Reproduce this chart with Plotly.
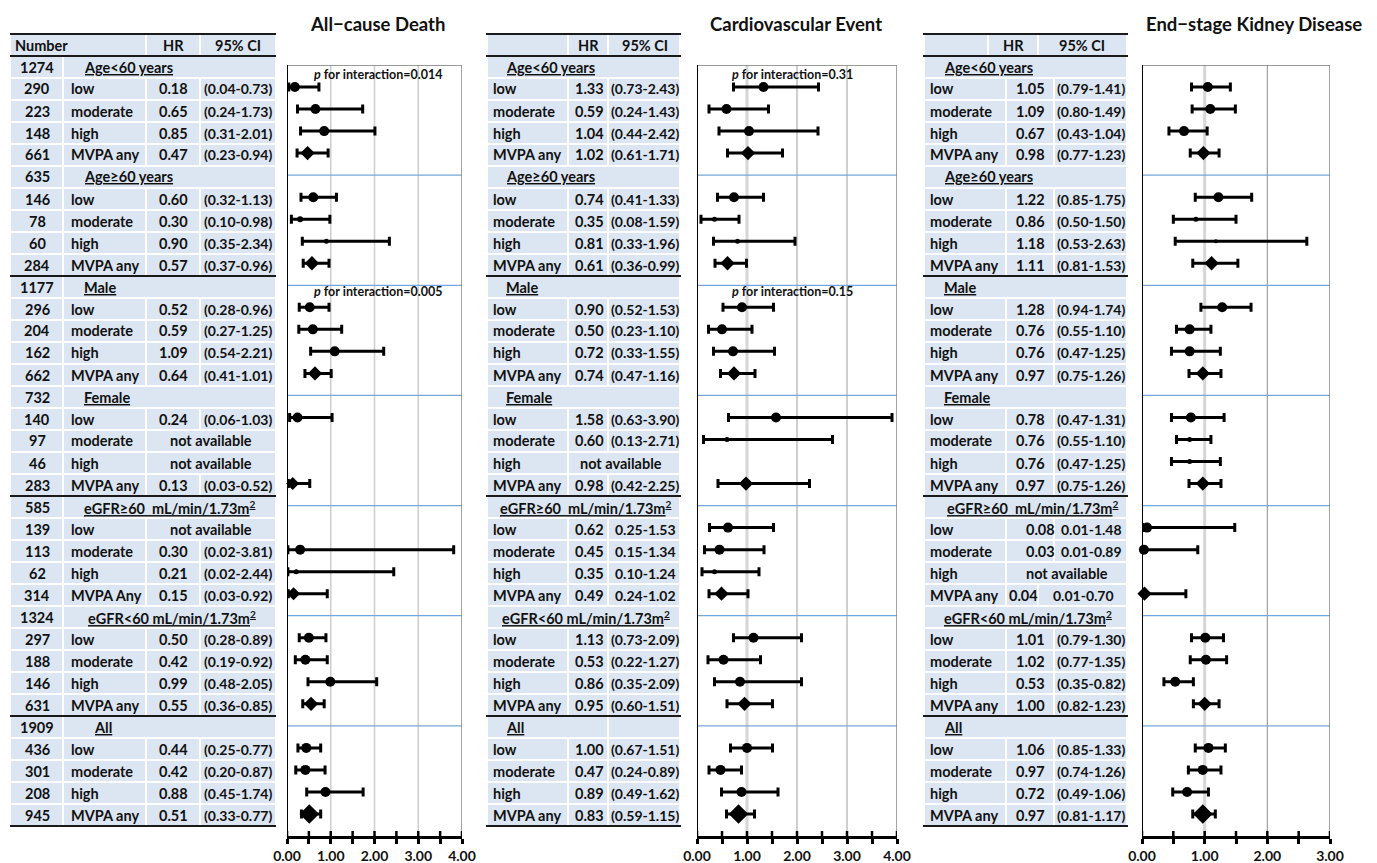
import plotly.graph_objects as go

W, H = 1377, 863
FONT = "Lato"
INK = "#111111"
CELL = "#dce6f2"

# ---------------- data ----------------
GROUPS = ["Age<60 years", "Age≥60 years", "Male", "Female",
          "eGFR≥60\u00a0 mL/min/1.73m<sup>2</sup>", "eGFR<60 mL/min/1.73m<sup>2</sup>", "All"]
GROUP_N = [1274, 635, 1177, 732, 585, 1324, 1909]
LEVELS = ["low", "moderate", "high", "MVPA any"]
LEVEL_N = [[290, 223, 148, 661], [146, 78, 60, 284], [296, 204, 162, 662], [140, 97, 46, 283],
           [139, 113, 62, 314], [297, 188, 146, 631], [436, 301, 208, 945]]

TITLES = ["All\u2212cause Death", "Cardiovascular Event", "End\u2212stage Kidney Disease"]

ACD_HR = [0.18, 0.65, 0.85, 0.47, 0.60, 0.30, 0.90, 0.57, 0.52, 0.59, 1.09, 0.64, 0.24, None, None, 0.13,
          None, 0.30, 0.21, 0.15, 0.50, 0.42, 0.99, 0.55, 0.44, 0.42, 0.88, 0.51]
ACD_LO = [0.04, 0.24, 0.31, 0.23, 0.32, 0.10, 0.35, 0.37, 0.28, 0.27, 0.54, 0.41, 0.06, None, None, 0.03,
          None, 0.02, 0.02, 0.03, 0.28, 0.19, 0.48, 0.36, 0.25, 0.20, 0.45, 0.33]
ACD_HI = [0.73, 1.73, 2.01, 0.94, 1.13, 0.98, 2.34, 0.96, 0.96, 1.25, 2.21, 1.01, 1.03, None, None, 0.52,
          None, 3.81, 2.44, 0.92, 0.89, 0.92, 2.05, 0.85, 0.77, 0.87, 1.74, 0.77]

CVE_HR = [1.33, 0.59, 1.04, 1.02, 0.74, 0.35, 0.81, 0.61, 0.90, 0.50, 0.72, 0.74, 1.58, 0.60, None, 0.98,
          0.62, 0.45, 0.35, 0.49, 1.13, 0.53, 0.86, 0.95, 1.00, 0.47, 0.89, 0.83]
CVE_LO = [0.73, 0.24, 0.44, 0.61, 0.41, 0.08, 0.33, 0.36, 0.52, 0.23, 0.33, 0.47, 0.63, 0.13, None, 0.42,
          0.25, 0.15, 0.10, 0.24, 0.73, 0.22, 0.35, 0.60, 0.67, 0.24, 0.49, 0.59]
CVE_HI = [2.43, 1.43, 2.42, 1.71, 1.33, 1.59, 1.96, 0.99, 1.53, 1.10, 1.55, 1.16, 3.90, 2.71, None, 2.25,
          1.53, 1.34, 1.24, 1.02, 2.09, 1.27, 2.09, 1.51, 1.51, 0.89, 1.62, 1.15]
# the drawn whisker for "Age≥60 / moderate" ends at ~0.84 in the original picture
CVE_DRAWN_HI = {5: 0.84}

ESKD_HR = [1.05, 1.09, 0.67, 0.98, 1.22, 0.86, 1.18, 1.11, 1.28, 0.76, 0.76, 0.97, 0.78, 0.76, 0.76, 0.97,
           0.08, 0.03, None, 0.04, 1.01, 1.02, 0.53, 1.00, 1.06, 0.97, 0.72, 0.97]
ESKD_LO = [0.79, 0.80, 0.43, 0.77, 0.85, 0.50, 0.53, 0.81, 0.94, 0.55, 0.47, 0.75, 0.47, 0.55, 0.47, 0.75,
           0.01, 0.01, None, 0.01, 0.79, 0.77, 0.35, 0.82, 0.85, 0.74, 0.49, 0.81]
ESKD_HI = [1.41, 1.49, 1.04, 1.23, 1.75, 1.50, 2.63, 1.53, 1.74, 1.10, 1.25, 1.26, 1.31, 1.10, 1.25, 1.26,
           1.48, 0.89, None, 0.70, 1.30, 1.35, 0.82, 1.23, 1.33, 1.26, 1.06, 1.17]

P_INTERACTION = [["0.014", "0.005"], ["0.31", "0.15"], []]

# marker sizes (point weights as drawn)
SIZE_ACD = [10, 10, 10, 11, 10, 6, 5, 11, 10, 10, 10, 11, 10, 0, 0, 10, 0, 10, 5, 10, 10, 10, 10, 11, 10, 10, 10, 15]
SIZE_CVE = [10, 10, 10, 11, 10, 5, 5, 11, 10, 10, 10, 11, 10, 5, 0, 11, 10, 10, 5, 11, 10, 10, 10, 11, 10, 10, 10, 15]
SIZE_ESKD = [10, 10, 10, 11, 10, 5, 4, 11, 10, 10, 10, 11, 10, 5, 5, 11, 10, 10, 0, 11, 10, 10, 10, 11, 10, 10, 10, 15]

# ---------------- helpers ----------------
shapes, ann = [], []
LAB, NUM, CIS = 14.5, 14.5, 14


def px(x):
    return x / W


def py(y):
    return 1 - y / H


def yc(i):
    return 45 + 22 * i


def cell(x0, x1, i):
    shapes.append(dict(type="rect", xref="paper", yref="paper", x0=px(x0 + 1), x1=px(x1 - 1),
                       y0=py(yc(i) + 10), y1=py(yc(i) - 10), fillcolor=CELL, line=dict(width=0),
                       layer="below"))


def txt(x, i, s, size, anchor="center"):
    ann.append(dict(xref="paper", yref="paper", x=px(x), y=py(yc(i)), text=f"<b>{s}</b>", showarrow=False,
                    xanchor=anchor, yanchor="middle", font=dict(family=FONT, size=size, color=INK)))


def hline(x0, x1, y, color="#1a1a1a", width=2):
    shapes.append(dict(type="line", xref="paper", yref="paper", x0=px(x0), x1=px(x1), y0=py(y), y1=py(y),
                       line=dict(color=color, width=width)))


# ---------------- tables ----------------
TABLES = [
    dict(x0=10, x1=276, num=(10, 63), num_x=37,
         head_cells=[(10, 146), (146, 200), (200, 276)],
         head_text=[(13, "Number", "left"), (173, "HR", "center"), (238, "95% CI", "center")],
         grp_cells=[(63, 276)], grp_x=[82, 82, 82, 82, 82, 86, 92],
         row_cells=[(63, 146), (146, 200), (200, 276)], na_cells=[(63, 146), (146, 276)],
         lab_x=69, hr_x=173, ci_x=238, na_x=211, paren=[True] * 7,
         hr=ACD_HR, lo=ACD_LO, hi=ACD_HI),
    dict(x0=486, x1=681, num=None,
         head_cells=[(487, 568), (568, 608), (608, 680)],
         head_text=[(588, "HR", "center"), (645, "95% CI", "center")],
         grp_cells=[(487, 680)], grp_x=[504, 504, 504, 504, 498, 500, 504],
         row_cells=[(487, 568), (568, 608), (608, 680)], na_cells=[(487, 568), (568, 680)],
         lab_x=491, hr_x=589, ci_x=645, na_x=621, paren=[True, True, True, True, False, True, True],
         hr=CVE_HR, lo=CVE_LO, hi=CVE_HI),
    dict(x0=923, x1=1128, num=None,
         head_cells=[(924, 988), (988, 1038), (1038, 1127)],
         head_text=[(1013, "HR", "center"), (1082, "95% CI", "center")],
         grp_cells=[(924, 1127)], grp_x=[942, 942, 942, 942, 945, 942, 942],
         row_cells=[(924, 1006), (1006, 1054), (1054, 1127)], na_cells=[(924, 1006), (1006, 1127)],
         lab_x=928, hr_x=1030, ci_x=1091, na_x=1067, paren=[True, True, True, True, False, True, True],
         hr=ESKD_HR, lo=ESKD_LO, hi=ESKD_HI),
]
# small per-cell layout quirks of the original tables
GROUP_SPLIT = {(1, 6): [(487, 608), (608, 680)]}
ROW_QUIRKS = {(2, 4, 0): dict(hr_x=1040), (2, 4, 1): dict(hr_x=1040),
              (2, 4, 3): dict(cells=[(924, 1006), (1006, 1038), (1038, 1127)], hr_x=1023, ci_x=1083)}
LABEL_OVERRIDE = {(0, 4, 3): "MVPA Any"}

for t, T in enumerate(TABLES):
    for (a, b) in T["head_cells"]:
        cell(a, b, 0)
    for (x, s, anc) in T["head_text"]:
        txt(x, 0, s, LAB, anc)
    for yl in [yc(0) - 11, yc(0) + 11, yc(10) + 11, yc(20) + 11, yc(30) + 11, yc(35) + 11]:
        hline(T["x0"], T["x1"], yl)
    for g in range(7):
        i = 1 + 5 * g
        if T["num"]:
            cell(*T["num"], i)
            txt(T["num_x"], i, str(GROUP_N[g]), NUM)
        for (a, b) in GROUP_SPLIT.get((t, g), T["grp_cells"]):
            cell(a, b, i)
        txt(T["grp_x"][g], i, f"<u>{GROUPS[g]}</u>", LAB, "left")
        for l in range(4):
            r = i + 1 + l
            k = 4 * g + l
            q = ROW_QUIRKS.get((t, g, l), {})
            if T["num"]:
                cell(*T["num"], r)
                txt(T["num_x"], r, str(LEVEL_N[g][l]), NUM)
            hrv = T["hr"][k]
            lab = LABEL_OVERRIDE.get((t, g, l), LEVELS[l])
            if hrv is None:
                for (a, b) in T["na_cells"]:
                    cell(a, b, r)
                txt(T["lab_x"], r, lab, LAB, "left")
                txt(T["na_x"], r, "not available", LAB)
                continue
            for (a, b) in q.get("cells", T["row_cells"]):
                cell(a, b, r)
            txt(T["lab_x"], r, lab, LAB, "left")
            txt(q.get("hr_x", T["hr_x"]), r, f"{hrv:.2f}", NUM)
            ci = f"{T['lo'][k]:.2f}-{T['hi'][k]:.2f}"
            if T["paren"][g]:
                ci = f"({ci})"
            txt(q.get("ci_x", T["ci_x"]), r, ci, CIS)

# ---------------- forest plots ----------------
FORESTS = [
    dict(ax="x", dom=(287, 462), xmax=4, hr=ACD_HR, lo=ACD_LO, hi=ACD_HI, size=SIZE_ACD, drawn={},
         grid=[(1, "#cfcfcf", 1.6), (2, "#cfcfcf", 1.6), (3, "#cfcfcf", 1.6)], right="#8c8c8c",
         title_x=377.5, p_x=2.08),
    dict(ax="x2", dom=(697, 897), xmax=4, hr=CVE_HR, lo=CVE_LO, hi=CVE_HI, size=SIZE_CVE, drawn=CVE_DRAWN_HI,
         grid=[(1, "#d6d6d6", 3), (2, "#a8a8a8", 1.1), (3, "#a8a8a8", 1.1)], right="#8c8c8c",
         title_x=796, p_x=1.9),
    dict(ax="x3", dom=(1142, 1330), xmax=3, hr=ESKD_HR, lo=ESKD_LO, hi=ESKD_HI, size=SIZE_ESKD, drawn={},
         grid=[(1, "#d6d6d6", 3), (2, "#a0a0a0", 1.2)], right="#8c8c8c",
         title_x=1254, p_x=1.5),
]

Y_TOP, Y_BOT = 65, 836
fig = go.Figure()
layout_axes = {}
for f, F in enumerate(FORESTS):
    ax = F["ax"]
    xs, ys, em, ep, sym, sz = [], [], [], [], [], []
    for k in range(28):
        if F["hr"][k] is None:
            continue
        g, l = divmod(k, 4)
        hi = F["drawn"].get(k, F["hi"][k])
        xs.append(F["hr"][k])
        ys.append(2 + 5 * g + l)
        em.append(F["hr"][k] - F["lo"][k])
        ep.append(hi - F["hr"][k])
        sym.append("diamond" if l == 3 else "circle")
        sz.append(F["size"][k])
    fig.add_trace(go.Scatter(
        x=xs, y=ys, xaxis=ax, yaxis="y", mode="markers", cliponaxis=False, showlegend=False,
        marker=dict(color="black", size=sz, symbol=sym, opacity=1, line=dict(width=0)),
        error_x=dict(type="data", symmetric=False, array=ep, arrayminus=em, color="black",
                     thickness=3, width=4.5),
        hoverinfo="skip"))

    # grid lines
    for (v, c, w) in F["grid"]:
        shapes.append(dict(type="line", xref=ax, yref="y", x0=v, x1=v, y0=1, y1=36,
                           line=dict(color=c, width=w), layer="below"))
    # group separators
    for g in range(1, 7):
        yy = 1 + 5 * g
        shapes.append(dict(type="line", xref=ax, yref="y", x0=0, x1=F["xmax"], y0=yy, y1=yy,
                           line=dict(color="#74a7db", width=1.3), layer="below"))
    # frame
    shapes.append(dict(type="line", xref=ax, yref="y", x0=0, x1=F["xmax"], y0=1, y1=1,
                       line=dict(color="#7a7a7a", width=1.6), layer="below"))
    shapes.append(dict(type="line", xref=ax, yref="y", x0=F["xmax"], x1=F["xmax"], y0=1, y1=36,
                       line=dict(color=F["right"], width=1.6), layer="below"))
    shapes.append(dict(type="line", xref=ax, yref="y", x0=0, x1=0, y0=1, y1=36,
                       line=dict(color="black", width=2), layer="below"))
    # upper halves of the crossing tick marks
    tv = [v / 2 for v in range(0, 2 * F["xmax"] + 1)]
    for v in tv:
        shapes.append(dict(type="line", xref=ax, yref="paper", x0=v, x1=v, y0=py(Y_BOT), y1=py(Y_BOT - 5),
                           line=dict(color="black", width=2.5)))
    name = "xaxis" if ax == "x" else "xaxis" + ax[1:]
    layout_axes[name] = dict(
        domain=[px(F["dom"][0]), px(F["dom"][1])], range=[0, F["xmax"]], anchor="y",
        showgrid=False, zeroline=False, showline=True, linecolor="black", linewidth=2.5,
        tickmode="array", tickvals=list(range(F["xmax"] + 1)),
        ticktext=[f"<b>{v:.2f}</b>" for v in range(F["xmax"] + 1)],
        ticks="outside", ticklen=5, tickwidth=2.5, tickcolor="black",
        minor=dict(tickvals=[v + 0.5 for v in range(F["xmax"])], ticks="outside", ticklen=5,
                   tickwidth=2.5, tickcolor="black"),
        tickfont=dict(family=FONT, size=14, color=INK), ticklabelstandoff=0, fixedrange=True,
        automargin=False)

    # title
    ann.append(dict(xref="paper", yref="paper", x=px(F["title_x"]), y=py(24), showarrow=False,
                    text=f"<b>{TITLES[f]}</b>", xanchor="center", yanchor="middle",
                    font=dict(family=FONT, size=18.5, color=INK)))
    # p for interaction
    for j, pv in enumerate(P_INTERACTION[f]):
        yy = [1.41, 11.3][j]
        ann.append(dict(xref=ax, yref="y", x=F["p_x"], y=yy, showarrow=False,
                        text=f"<b><i>p</i> for interaction={pv}</b>", xanchor="center", yanchor="middle",
                        font=dict(family=FONT, size=12.5, color=INK)))

fig.update_layout(
    width=W, height=H, autosize=False,
    margin=dict(l=0, r=0, t=0, b=0, pad=0, autoexpand=False),
    paper_bgcolor="white", plot_bgcolor="white",
    yaxis=dict(domain=[py(Y_BOT), py(Y_TOP)], range=[36, 1], visible=False, showgrid=False,
               zeroline=False, fixedrange=True, automargin=False),
    shapes=shapes, annotations=ann, showlegend=False, **layout_axes)

fig.write_html("out.html", config={"displayModeBar": False},
               post_script="document.body.style.margin='0';document.body.style.overflow='hidden';")
